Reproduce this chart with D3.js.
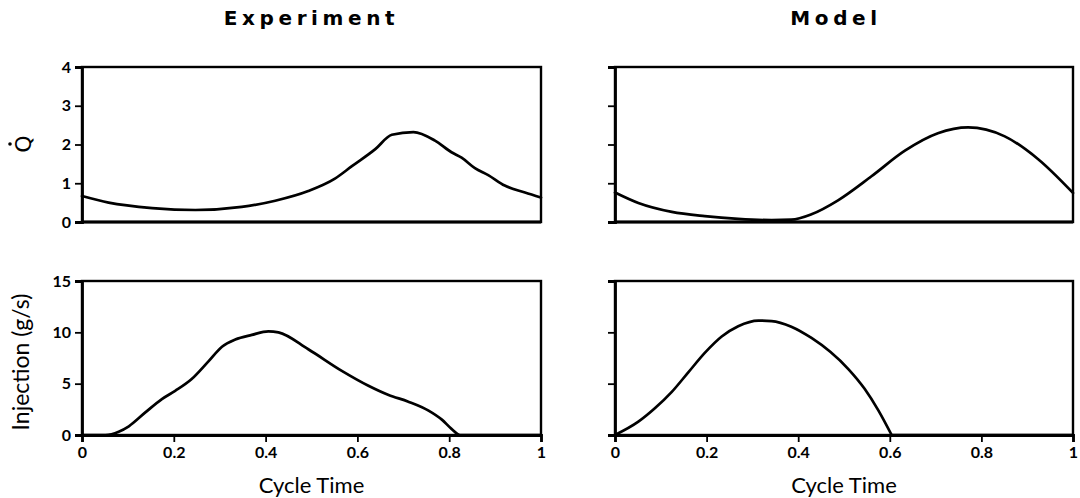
<!DOCTYPE html>
<html>
<head>
<meta charset="utf-8">
<script src="https://cdn.jsdelivr.net/npm/d3@7"></script>
<style>
  body { margin: 0; background: #fff; }
  svg { display: block; }
</style>
</head>
<body>
<script>
var W = 1080, H = 498;

// cycle time samples and values
var expQx = [0, 0.058, 0.153, 0.247, 0.348, 0.421, 0.493, 0.551, 0.588, 0.639, 0.675, 0.722, 0.769, 0.805, 0.827, 0.856, 0.885, 0.921, 0.965, 1.0];
var expQy = [0.67, 0.50, 0.36, 0.31, 0.39, 0.55, 0.80, 1.12, 1.44, 1.88, 2.25, 2.32, 2.10, 1.80, 1.66, 1.39, 1.21, 0.94, 0.76, 0.63];

var expIx = [0, 0.051, 0.080, 0.102, 0.138, 0.174, 0.203, 0.239, 0.276, 0.305, 0.334, 0.370, 0.406, 0.428, 0.493, 0.566, 0.624, 0.668, 0.711, 0.755, 0.784, 0.805, 0.824, 1.0];
var expIy = [0, 0, 0.32, 0.85, 2.2, 3.5, 4.3, 5.45, 7.2, 8.6, 9.3, 9.75, 10.1, 10.0, 8.35, 6.25, 4.8, 3.9, 3.25, 2.38, 1.5, 0.6, 0, 0];

var modQx = [0, 0.051, 0.124, 0.196, 0.269, 0.342, 0.385, 0.429, 0.487, 0.560, 0.633, 0.705, 0.771, 0.851, 0.924, 1.0];
var modQy = [0.76, 0.49, 0.26, 0.15, 0.08, 0.05, 0.06, 0.2, 0.56, 1.18, 1.84, 2.29, 2.44, 2.21, 1.62, 0.75];

var modIx = [0, 0.051, 0.087, 0.124, 0.160, 0.196, 0.233, 0.269, 0.313, 0.342, 0.385, 0.429, 0.470, 0.510, 0.545, 0.575, 0.604, 1.0];
var modIy = [0, 1.3, 2.6, 4.2, 6.1, 8.0, 9.6, 10.6, 11.15, 11.1, 10.55, 9.45, 8.1, 6.4, 4.5, 2.4, 0, 0];
var modIBreak = 16; // model injection stops sharply at this sample

var xTicks = [0, 0.2, 0.4, 0.6, 0.8, 1];
var qTicks = [0, 1, 2, 3, 4];
var iTicks = [0, 5, 10, 15];

var titles = ["Experiment", "Model"];

var svg = d3.select("body").append("svg").attr("width", W).attr("height", H);

var cols = [[82, 541], [615, 1073]];
var topRange = [222, 67], botRange = [435, 281];

function panel(xr, yr, ydom, xs, ys, yticks, showYLabels, showX, brk) {
  var x = d3.scaleLinear().domain([0, 1]).range(xr);
  var y = d3.scaleLinear().domain(ydom).range(yr);
  var g = svg.append("g");

  // frame
  g.append("rect")
    .attr("x", xr[0]).attr("y", yr[1])
    .attr("width", xr[1] - xr[0]).attr("height", yr[0] - yr[1])
    .attr("fill", "none").attr("stroke", "#000").attr("stroke-width", 2.4);

  var yAxis = d3.axisLeft(y).tickValues(yticks).tickSize(7).tickPadding(4)
    .tickFormat(showYLabels ? d3.format("d") : function() { return ""; });
  var ya = g.append("g").attr("transform", "translate(" + xr[0] + ",0)").call(yAxis);
  ya.select(".domain").attr("stroke-width", 2.8);
  ya.selectAll(".tick line").attr("stroke-width", 1.8);
  ya.selectAll(".tick text").attr("font-family", "Lato, sans-serif").attr("font-weight", "bold")
    .attr("font-size", 16).attr("fill", "#000");

  if (showX) {
    var xAxis = d3.axisBottom(x).tickValues(xTicks).tickSize(7).tickPadding(5)
      .tickFormat(function(d) { return d3.format("")(d); });
    var xa = g.append("g").attr("transform", "translate(0," + yr[0] + ")").call(xAxis);
    xa.select(".domain").attr("stroke-width", 2.8);
    xa.selectAll(".tick line").attr("stroke-width", 1.8);
    xa.selectAll(".tick text").attr("font-family", "Lato, sans-serif").attr("font-weight", "bold")
      .attr("font-size", 16).attr("fill", "#000");
    g.append("text")
      .attr("x", (xr[0] + xr[1]) / 2).attr("y", yr[0] + 58)
      .attr("text-anchor", "middle")
      .attr("font-family", "Lato, sans-serif").attr("font-size", 22)
      .text("Cycle Time");
  } else {
    g.append("line").attr("x1", xr[0]).attr("x2", xr[1]).attr("y1", yr[0]).attr("y2", yr[0])
      .attr("stroke", "#000").attr("stroke-width", 2.8);
  }

  var line = d3.line()
    .x(function(d) { return x(d[0]); })
    .y(function(d) { return y(d[1]); })
    .curve(d3.curveMonotoneX);
  var pts = d3.zip(xs, ys);
  var parts = brk ? [pts.slice(0, brk + 1), pts.slice(brk)] : [pts];
  parts.forEach(function(p) {
    g.append("path")
      .datum(p)
      .attr("d", line)
      .attr("fill", "none").attr("stroke", "#000").attr("stroke-width", 2.7)
      .attr("stroke-linejoin", "round").attr("stroke-linecap", "round");
  });
}

panel(cols[0], topRange, [0, 4], expQx, expQy, qTicks, true, false);
panel(cols[0], botRange, [0, 15], expIx, expIy, iTicks, true, true);
panel(cols[1], topRange, [0, 4], modQx, modQy, qTicks, false, false);
panel(cols[1], botRange, [0, 15], modIx, modIy, iTicks, false, true, modIBreak);

titles.forEach(function(t, i) {
  svg.append("text")
    .attr("x", (cols[i][0] + cols[i][1]) / 2 + (i === 0 ? 0 : -8)).attr("y", 25)
    .attr("text-anchor", "middle")
    .attr("font-family", "'DejaVu Sans', sans-serif").attr("font-weight", "bold")
    .attr("font-size", 20).attr("letter-spacing", 4.6)
    .text(t);
});

// Q with overdot, rotated like the other y label
var ql = svg.append("g").attr("transform", "translate(31,144) rotate(-90)");
ql.append("text")
  .attr("text-anchor", "middle")
  .attr("font-family", "'DejaVu Sans', sans-serif").attr("font-size", 22)
  .text("Q");
ql.append("circle").attr("cx", 0).attr("cy", -21).attr("r", 1.8).attr("fill", "#000");

svg.append("text")
  .attr("transform", "translate(29,362) rotate(-90)")
  .attr("text-anchor", "middle")
  .attr("font-family", "Lato, sans-serif").attr("font-size", 23)
  .text("Injection (g/s)");
</script>
</body>
</html>
